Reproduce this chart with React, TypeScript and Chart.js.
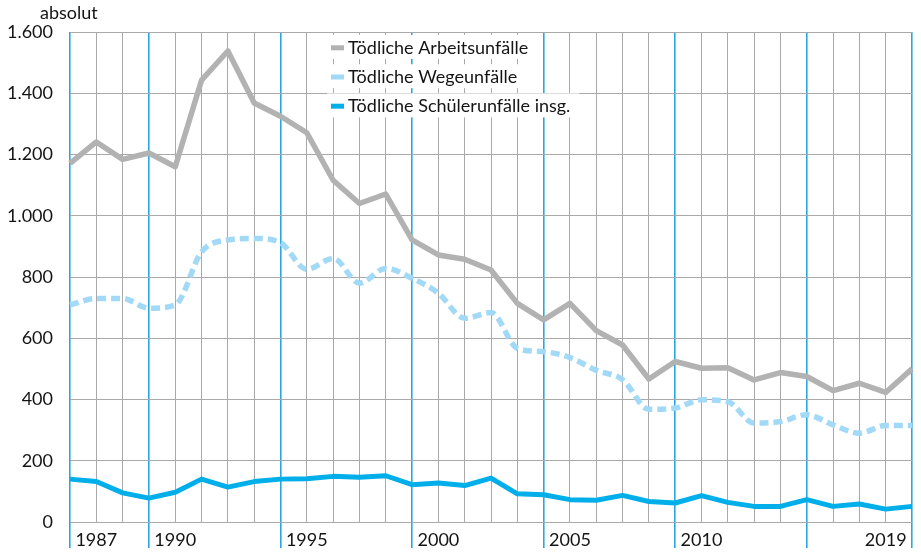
import React, { useEffect, useRef } from 'react';
import { Chart, registerables } from 'chart.js';

Chart.register(...registerables);

// ---- data ----
const years = [
  '1987', '1988', '1989', '1990', '1991', '1992', '1993', '1994', '1995', '1996',
  '1997', '1998', '1999', '2000', '2001', '2002', '2003', '2004', '2005', '2006',
  '2007', '2008', '2009', '2010', '2011', '2012', '2013', '2014', '2015', '2016',
  '2017', '2018', '2019',
];

const arbeitsunfaelle = [
  1171, 1241, 1184, 1205, 1160, 1443, 1538, 1368, 1325, 1271,
  1116, 1040, 1071, 921, 872, 858, 823, 714, 660, 714,
  625, 578, 467, 524, 502, 504, 464, 488, 475, 429,
  453, 423, 500,
];

const wegeunfaelle = [
  709, 730, 730, 698, 709, 882, 921, 926, 912, 825,
  861, 780, 828, 796, 747, 665, 684, 567, 556, 537,
  495, 465, 368, 372, 399, 393, 323, 328, 350, 317,
  290, 315, 315,
];

const schuelerunfaelle = [
  140, 132, 95, 78, 97, 140, 114, 132, 140, 141,
  149, 146, 151, 122, 127, 119, 143, 92, 89, 73,
  71, 87, 67, 62, 86, 64, 51, 51, 73, 51,
  59, 42, 51,
];

const seriesLabels = [
  'Tödliche Arbeitsunfälle',
  'Tödliche Wegeunfälle',
  'Tödliche Schülerunfälle insg.',
];

const xLabelYears = ['1987', '1990', '1995', '2000', '2005', '2010', '2019'];
const markedYears = ['1987', '1990', '1995', '2000', '2005', '2010', '2015', '2019'];
const yMin = 0;
const yMax = 1600;
const yStep = 200;
const yAxisTitle = 'absolut';

// ---- styles ----
const FONT = 'Lato';
const TEXT = '#141414';
const GRID_GRAY = '#a9a9a9';
const GRID_BLUE = '#2aa7df';
const C_ARBEIT = '#b2b2b2';
const C_WEGE = '#a2d9f6';
const C_SCHUELER = '#00aeea';

const fmt = (v: number) => String(v).replace(/\B(?=(\d{3})+(?!\d))/g, '.');

const overlayPlugin = {
  id: 'overlay',
  afterDraw(chart: any) {
    const ctx = chart.ctx as CanvasRenderingContext2D;
    const xs = chart.scales.x;
    const area = chart.chartArea;
    ctx.save();
    ctx.font = `18px ${FONT}`;
    ctx.fillStyle = TEXT;
    ctx.textBaseline = 'alphabetic';

    // axis title
    ctx.textAlign = 'left';
    ctx.fillText(yAxisTitle, 40, 19);

    // x labels, set in the interval beside their year line
    ctx.textAlign = 'center';
    xLabelYears.forEach((y) => {
      const i = years.indexOf(y);
      const j = i === years.length - 1 ? i - 1 : i + 1;
      ctx.fillText(y, xs.getPixelForValue(j), area.bottom + 24);
    });

    // legend
    const left = area.left + 257;
    const colors = chart.data.datasets.map((d: any) => d.borderColor);
    ctx.textAlign = 'left';
    chart.data.datasets.forEach((d: any, i: number) => {
      const base = 54 + i * 29.2;
      const w = ctx.measureText(d.label).width;
      ctx.fillStyle = '#ffffff';
      ctx.fillRect(left, base - 19, 21 + w + 9, 24);
      ctx.fillStyle = colors[i];
      ctx.fillRect(left + 4, base - 8.7, 13, 5);
      ctx.fillStyle = TEXT;
      ctx.fillText(d.label, left + 21, base);
    });
    ctx.restore();
  },
};

export default function App() {
  const ref = useRef<HTMLCanvasElement | null>(null);

  useEffect(() => {
    if (!ref.current) return;
    Chart.defaults.font.family = FONT;
    const isMarked = (i: number) => markedYears.includes(years[i]);
    const chart = new Chart(ref.current, {
      type: 'line',
      data: {
        labels: years,
        datasets: [
          {
            label: seriesLabels[0],
            data: arbeitsunfaelle,
            borderColor: C_ARBEIT,
            backgroundColor: C_ARBEIT,
            borderWidth: 5.5,
            pointRadius: 0,
            tension: 0,
            borderJoinStyle: 'round',
          },
          {
            label: seriesLabels[1],
            data: wegeunfaelle,
            borderColor: C_WEGE,
            backgroundColor: C_WEGE,
            borderWidth: 5.5,
            borderDash: [9, 5],
            pointRadius: 0,
            cubicInterpolationMode: 'monotone',
          },
          {
            label: seriesLabels[2],
            data: schuelerunfaelle,
            borderColor: C_SCHUELER,
            backgroundColor: C_SCHUELER,
            borderWidth: 5,
            pointRadius: 0,
            tension: 0,
            borderJoinStyle: 'round',
          },
        ],
      },
      options: {
        responsive: false,
        animation: false,
        devicePixelRatio: 1,
        layout: { padding: { top: 32, right: 9, left: 0, bottom: 0 } },
        plugins: {
          legend: { display: false },
          tooltip: { enabled: false },
          title: { display: false },
        },
        scales: {
          x: {
            type: 'category',
            border: { display: false },
            ticks: { display: false, autoSkip: false },
            grid: {
              color: (c: any) => (isMarked(c.index) ? GRID_BLUE : GRID_GRAY),
              lineWidth: (c: any) => (isMarked(c.index) ? 1.6 : 1),
              tickColor: (c: any) => (isMarked(c.index) ? GRID_BLUE : 'rgba(0,0,0,0)'),
              tickWidth: 1.6,
              tickLength: 26,
              drawTicks: true,
            },
            afterFit: (s: any) => {
              s.height = 30;
            },
          },
          y: {
            min: yMin,
            max: yMax,
            border: { display: false },
            ticks: {
              stepSize: yStep,
              padding: 17,
              color: TEXT,
              font: { family: FONT, size: 18 },
              callback: (v: any) => fmt(Number(v)),
            },
            grid: { color: GRID_GRAY, lineWidth: 1, drawTicks: false },
            afterFit: (s: any) => {
              s.width = 70;
            },
          },
        },
      },
      plugins: [overlayPlugin],
    });
    return () => chart.destroy();
  }, []);

  return (
    <div style={{ position: 'absolute', left: 0, top: 0, width: 921, height: 552, background: '#fff' }}>
      <canvas ref={ref} width={921} height={552} style={{ display: 'block' }} />
    </div>
  );
}
